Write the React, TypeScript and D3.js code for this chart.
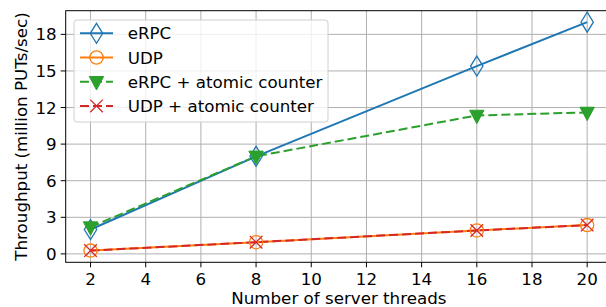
import { useEffect, useRef } from "react"
import * as d3 from "d3"

const threads = [2, 8, 16, 20]
const erpc = [2.0, 8.0, 15.4, 19.0]
const udp = [0.27, 0.96, 1.92, 2.36]
const erpcAtomic = [2.2, 8.0, 11.35, 11.6]
const udpAtomic = [0.27, 0.96, 1.92, 2.36]
const xTicks = [2, 4, 6, 8, 10, 12, 14, 16, 18, 20]
const yTicks = [0, 3, 6, 9, 12, 15, 18]

type Series = {
  name: string
  values: number[]
  color: string
  dash: string | null
  marker: "diamond" | "circle" | "tri" | "x"
}

const series: Series[] = [
  { name: "eRPC", values: erpc, color: "#1f77b4", dash: null, marker: "diamond" },
  { name: "UDP", values: udp, color: "#ff7f0e", dash: null, marker: "circle" },
  { name: "eRPC + atomic counter", values: erpcAtomic, color: "#2ca02c", dash: "9,4", marker: "tri" },
  { name: "UDP + atomic counter", values: udpAtomic, color: "#d62728", dash: "9,4", marker: "x" },
]

const font = "DejaVu Sans, sans-serif"
const fs = 16.7

function drawMarker(
  g: d3.Selection<SVGGElement, unknown, null, undefined>,
  kind: Series["marker"],
  x: number,
  y: number,
  color: string
) {
  if (kind === "diamond") {
    g.append("path")
      .attr("d", `M${x},${y - 10} L${x + 6.2},${y} L${x},${y + 10} L${x - 6.2},${y} Z`)
      .attr("fill", "none")
      .attr("stroke", color)
      .attr("stroke-width", 1.3)
  } else if (kind === "circle") {
    g.append("circle")
      .attr("cx", x).attr("cy", y).attr("r", 6.6)
      .attr("fill", "none")
      .attr("stroke", color)
      .attr("stroke-width", 1.3)
  } else if (kind === "tri") {
    g.append("path")
      .attr("d", `M${x - 7.2},${y - 5.2} L${x + 7.2},${y - 5.2} L${x},${y + 8.2} Z`)
      .attr("fill", color)
      .attr("stroke", color)
      .attr("stroke-width", 1)
  } else {
    g.append("path")
      .attr("d", `M${x - 6.3},${y - 6.3} L${x + 6.3},${y + 6.3} M${x - 6.3},${y + 6.3} L${x + 6.3},${y - 6.3}`)
      .attr("fill", "none")
      .attr("stroke", color)
      .attr("stroke-width", 1.3)
  }
}

function Chart() {
  const svgRef = useRef<SVGSVGElement>(null)

  useEffect(() => {
    const svg = d3.select(svgRef.current)
    svg.selectAll("*").remove()

    const width = 606
    const height = 307
    const left = 65.7
    const right = 612
    const top = 10.7
    const bottom = 262.3

    svg.attr("width", width).attr("height", height)

    const x = d3.scaleLinear().domain([1.1, 20.9]).range([left, right])
    const y = d3.scaleLinear().domain([-0.69, 19.94]).range([bottom, top])

    svg.append("rect")
      .attr("width", width).attr("height", height).attr("fill", "white")

    // grid
    const grid = svg.append("g")
    xTicks.forEach(t => {
      grid.append("line")
        .attr("x1", x(t)).attr("x2", x(t))
        .attr("y1", top).attr("y2", bottom)
        .attr("stroke", "#b0b0b0").attr("stroke-width", 1)
    })
    yTicks.forEach(t => {
      grid.append("line")
        .attr("x1", left).attr("x2", right)
        .attr("y1", y(t)).attr("y2", y(t))
        .attr("stroke", "#b0b0b0").attr("stroke-width", 1)
    })

    // lines
    const line = d3.line<number>()
      .x((_, i) => x(threads[i]))
      .y(d => y(d))

    series.forEach(s => {
      svg.append("path")
        .datum(s.values)
        .attr("d", line)
        .attr("fill", "none")
        .attr("stroke", s.color)
        .attr("stroke-width", 2)
        .attr("stroke-dasharray", s.dash)
    })
    series.forEach(s => {
      const g = svg.append("g")
      s.values.forEach((v, i) => drawMarker(g, s.marker, x(threads[i]), y(v), s.color))
    })

    // spines
    svg.append("rect")
      .attr("x", left).attr("y", top)
      .attr("width", right - left).attr("height", bottom - top)
      .attr("fill", "none").attr("stroke", "black").attr("stroke-width", 1)

    // x ticks
    const xAxis = svg.append("g")
    xTicks.forEach(t => {
      xAxis.append("line")
        .attr("x1", x(t)).attr("x2", x(t))
        .attr("y1", bottom).attr("y2", bottom + 5)
        .attr("stroke", "black")
      xAxis.append("text")
        .attr("x", x(t)).attr("y", bottom + 23)
        .attr("text-anchor", "middle")
        .attr("font-family", font).attr("font-size", fs)
        .text(t)
    })
    const yAxis = svg.append("g")
    yTicks.forEach(t => {
      yAxis.append("line")
        .attr("x1", left - 5).attr("x2", left)
        .attr("y1", y(t)).attr("y2", y(t))
        .attr("stroke", "black")
      yAxis.append("text")
        .attr("x", left - 9).attr("y", y(t))
        .attr("dy", "0.36em")
        .attr("text-anchor", "end")
        .attr("font-family", font).attr("font-size", fs)
        .text(t)
    })

    svg.append("text")
      .attr("x", (left + right) / 2).attr("y", 304)
      .attr("text-anchor", "middle")
      .attr("font-family", font).attr("font-size", fs)
      .text("Number of server threads")

    svg.append("text")
      .attr("transform", `translate(27,${(top + bottom) / 2}) rotate(-90)`)
      .attr("text-anchor", "middle")
      .attr("font-family", font).attr("font-size", fs)
      .text("Throughput (million PUTs/sec)")

    // legend
    const legend = svg.append("g")
    legend.append("rect")
      .attr("x", 74).attr("y", 20)
      .attr("width", 254).attr("height", 102)
      .attr("rx", 3)
      .attr("fill", "white").attr("fill-opacity", 0.8)
      .attr("stroke", "#d0d0d0").attr("stroke-width", 1)
    series.forEach((s, i) => {
      const ly = 33.3 + i * 24.2
      legend.append("line")
        .attr("x1", 80).attr("x2", 113)
        .attr("y1", ly).attr("y2", ly)
        .attr("stroke", s.color).attr("stroke-width", 2)
        .attr("stroke-dasharray", s.dash)
      const mg = legend.append("g")
      drawMarker(mg, s.marker, 96.5, ly, s.color)
      legend.append("text")
        .attr("x", 127.7).attr("y", ly)
        .attr("dy", "0.36em")
        .attr("font-family", font).attr("font-size", fs)
        .text(s.name)
    })
  }, [])

  return <svg ref={svgRef} style={{ display: "block" }}></svg>
}

export default function App() {
  return (
    <div style={{ position: "absolute", left: 0, top: 0 }}>
      <Chart />
    </div>
  )
}
